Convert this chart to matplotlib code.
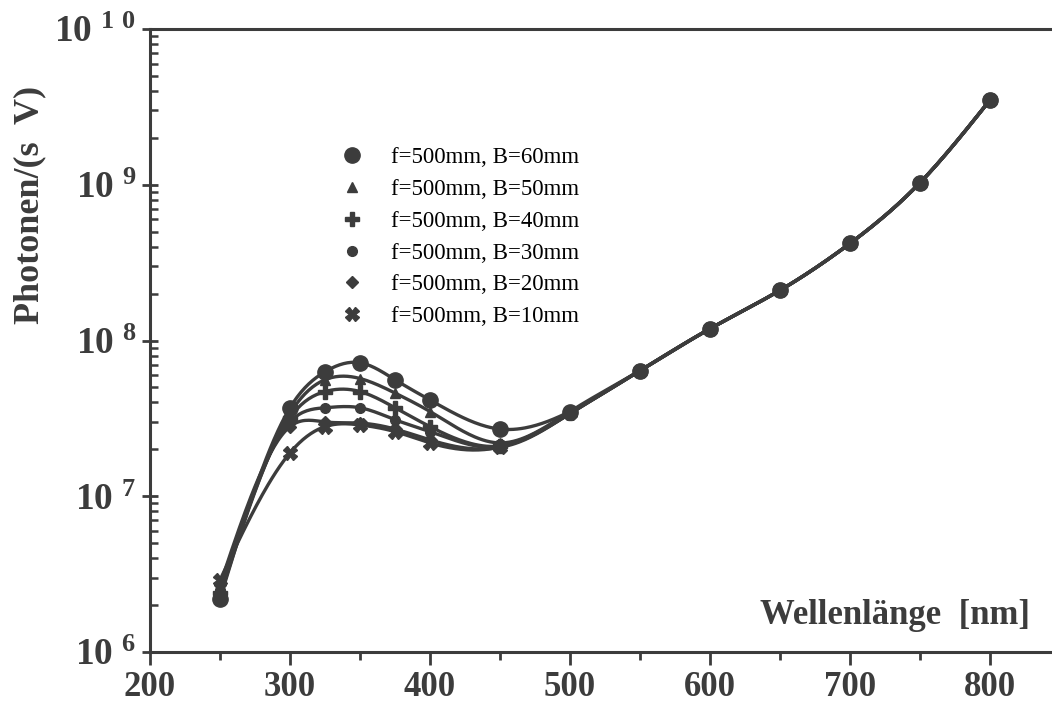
import matplotlib
matplotlib.use("Agg")
import matplotlib.pyplot as plt
import numpy as np
from matplotlib.lines import Line2D

# wavelength [nm]
wavelength = [250, 300, 325, 350, 375, 400, 450, 500, 550, 600, 650, 700, 750, 800]

# photons/(s V) for aperture B
b60 = [2.2e6, 3.7e7, 6.3e7, 7.2e7, 5.6e7, 4.15e7, 2.7e7, 3.5e7, 6.4e7, 1.19e8, 2.1e8, 4.2e8, 1.03e9, 3.5e9]
b50 = [2.3e6, 3.4e7, 5.6e7, 5.7e7, 4.6e7, 3.5e7, 2.2e7, 3.5e7, 6.4e7, 1.19e8, 2.1e8, 4.2e8, 1.03e9, 3.5e9]
b40 = [2.4e6, 3.2e7, 4.7e7, 4.7e7, 3.7e7, 2.8e7, 2.1e7, 3.4e7, 6.4e7, 1.19e8, 2.1e8, 4.2e8, 1.03e9, 3.5e9]
b30 = [2.5e6, 3.0e7, 3.7e7, 3.7e7, 3.1e7, 2.6e7, 2.07e7, 3.4e7, 6.4e7, 1.19e8, 2.1e8, 4.2e8, 1.03e9, 3.5e9]
b20 = [2.7e6, 2.8e7, 3.0e7, 2.95e7, 2.7e7, 2.3e7, 2.07e7, 3.4e7, 6.4e7, 1.19e8, 2.1e8, 4.2e8, 1.03e9, 3.5e9]
b10 = [2.9e6, 1.9e7, 2.8e7, 2.87e7, 2.6e7, 2.2e7, 2.07e7, 3.4e7, 6.4e7, 1.19e8, 2.1e8, 4.2e8, 1.03e9, 3.5e9]

labels = ["f=500mm, B=60mm", "f=500mm, B=50mm", "f=500mm, B=40mm",
          "f=500mm, B=30mm", "f=500mm, B=20mm", "f=500mm, B=10mm"]
series = [b60, b50, b40, b30, b20, b10]
markers = ["o", "^", "P", "o", "D", "X"]
msizes = [11, 7, 10, 7, 6, 10]

col = "#3c3c3c"


def spline(x, y, n=400):
    # natural cubic spline, only used to draw the smooth curve
    x = np.asarray(x, float)
    y = np.asarray(y, float)
    h = np.diff(x)
    m = len(x)
    A = np.zeros((m, m))
    r = np.zeros(m)
    A[0, 0] = A[-1, -1] = 1
    for i in range(1, m - 1):
        A[i, i - 1] = h[i - 1]
        A[i, i] = 2 * (h[i - 1] + h[i])
        A[i, i + 1] = h[i]
        r[i] = 3 * ((y[i + 1] - y[i]) / h[i] - (y[i] - y[i - 1]) / h[i - 1])
    c = np.linalg.solve(A, r)
    b = (np.diff(y) / h) - h * (2 * c[:-1] + c[1:]) / 3
    d = np.diff(c) / (3 * h)
    xs = np.linspace(x[0], x[-1], n)
    idx = np.clip(np.searchsorted(x, xs) - 1, 0, m - 2)
    t = xs - x[idx]
    ys = y[idx] + b[idx] * t + c[idx] * t ** 2 + d[idx] * t ** 3
    return xs, ys


plt.rcParams['font.family'] = ['Liberation Serif', 'DejaVu Serif']
plt.rcParams['mathtext.fontset'] = 'custom'
plt.rcParams['mathtext.rm'] = 'Liberation Serif:bold'
plt.rcParams['mathtext.bf'] = 'Liberation Serif:bold'

fig = plt.figure(figsize=(10.52, 7.10), dpi=100)
ax = fig.add_axes([150 / 1052, 58 / 710, 902 / 1052, 623 / 710])

for s, mk, ms in zip(series, markers, msizes):
    xs, ys = spline(wavelength, np.log10(s))
    ax.plot(xs, 10 ** ys, color=col, lw=2.4, zorder=2)
    ax.plot(wavelength, s, ls="none", marker=mk, ms=ms, color=col, mec=col, zorder=3)

ax.set_yscale("log")
ax.set_xlim(200, 200 + 902 / 1.4)
ax.set_ylim(1e6, 1e10)

ax.spines['right'].set_visible(False)
for sp in ['left', 'bottom', 'top']:
    ax.spines[sp].set_linewidth(2.2)
    ax.spines[sp].set_color(col)

ax.set_xticks([200, 300, 400, 500, 600, 700, 800])
ax.set_xticks([250, 350, 450, 550, 650, 750], minor=True)
ax.set_xticklabels(["200", "300", "400", "500", "600", "700", "800"],
                   fontsize=25, fontweight='bold', color=col)
ax.tick_params(axis='x', which='major', direction='out', length=9, width=2, color=col, pad=5)
ax.tick_params(axis='x', which='minor', direction='out', length=6, width=2, color=col)

ax.set_yticks([1e6, 1e7, 1e8, 1e9, 1e10])
ax.set_yticklabels([r"$\mathbf{10^{\ 6}}$", r"$\mathbf{10^{\ 7}}$", r"$\mathbf{10^{\ 8}}$",
                    r"$\mathbf{10^{\ 9}}$", r"$\mathbf{10^{\ 1\ 0}}$"],
                   fontsize=27, color=col)
ax.tick_params(axis='y', which='major', direction='inout', length=12, width=2, color=col, pad=4)
ax.tick_params(axis='y', which='minor', direction='in', length=6, width=1.8, color=col)
ax.tick_params(axis='x', which='both', top=False)

fig.text(30 / 1052, 1 - 205 / 710, "Photonen/(s  V)", rotation=90, fontsize=26,
         fontweight='bold', color=col, ha='center', va='center')
fig.text(1030 / 1052, 1 - 615 / 710, "Wellenlänge  [nm]", fontsize=25,
         fontweight='bold', color=col, ha='right', va='center')

handles = [Line2D([], [], ls="none", marker=mk, ms=ms, color=col) for mk, ms in zip(markers, msizes)]
ax.legend(handles, labels, loc='upper left', bbox_to_anchor=(334 / 1052, 1 - 138 / 710),
          bbox_transform=fig.transFigure, frameon=False, fontsize=16.5,
          handlelength=0.8, handletextpad=1.3, labelspacing=0.47, borderaxespad=0)

fig.savefig("out.png", dpi=100)
